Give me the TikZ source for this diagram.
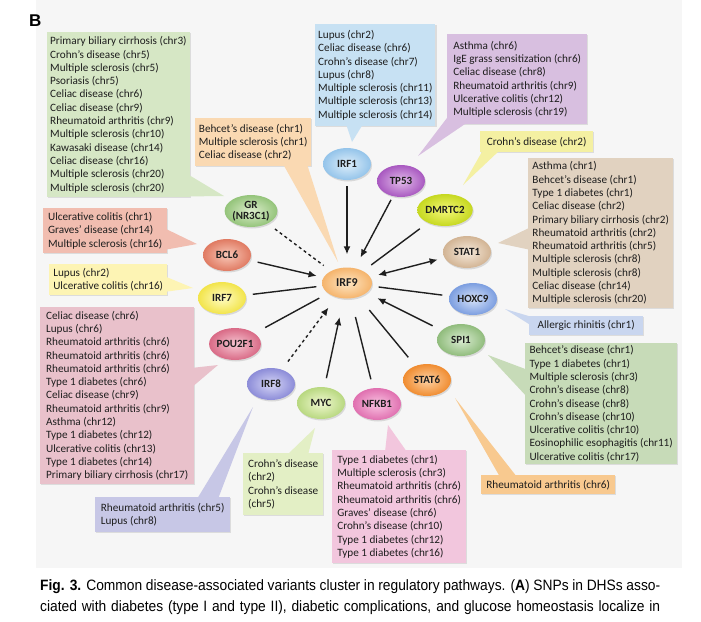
\documentclass[tikz,border=0pt]{standalone}
\usepackage{fontspec}
\setmainfont{Carlito}
\newfontfamily\capfont[FakeStretch=0.92]{Liberation Sans}
\newfontfamily\blabelfont{Liberation Sans}
\usetikzlibrary{shapes.geometric,shadows,arrows.meta}
% box colours
\definecolor{bgc}{HTML}{F6F6F6}
\definecolor{GRb}{HTML}{D6E7C5}
\definecolor{PKb}{HTML}{FAD9B2}
\definecolor{IRFib}{HTML}{C7E1F3}
\definecolor{TPb}{HTML}{D8BFE0}
\definecolor{DMb}{HTML}{F4F0A2}
\definecolor{STib}{HTML}{E1D2C0}
\definecolor{HOb}{HTML}{C9D6EF}
\definecolor{SPb}{HTML}{C7DBB8}
\definecolor{STvib}{HTML}{F8C98F}
\definecolor{NFb}{HTML}{F2C6DD}
\definecolor{MYb}{HTML}{E3EFC5}
\definecolor{IRFviiib}{HTML}{C7C7E6}
\definecolor{POb}{HTML}{E9C1CB}
\definecolor{IRFviib}{HTML}{FDF4B4}
\definecolor{BCb}{HTML}{F1BDB0}
\definecolor{txt}{HTML}{1E1E1E}
% gene colours (inner / outer)
\definecolor{IRFixI}{HTML}{FDE6C4}\definecolor{IRFixO}{HTML}{F5B46C}
\definecolor{GRI}{HTML}{DCEDCC}\definecolor{GRO}{HTML}{94C47A}
\definecolor{BCI}{HTML}{F8C8B8}\definecolor{BCO}{HTML}{E07A62}
\definecolor{IRFviiI}{HTML}{FFFCC4}\definecolor{IRFviiO}{HTML}{F2E44A}
\definecolor{POI}{HTML}{F6C6D2}\definecolor{POO}{HTML}{D96A86}
\definecolor{IRFviiiI}{HTML}{D6D6F6}\definecolor{IRFviiiO}{HTML}{8C8CD8}
\definecolor{MYI}{HTML}{F0F8D0}\definecolor{MYO}{HTML}{B8D880}
\definecolor{NFI}{HTML}{F9C4E2}\definecolor{NFO}{HTML}{E070B0}
\definecolor{STviI}{HTML}{FDD2A4}\definecolor{STviO}{HTML}{F08C30}
\definecolor{SPI}{HTML}{DAECD2}\definecolor{SPO}{HTML}{90BC7C}
\definecolor{HOI}{HTML}{D6E2F8}\definecolor{HOO}{HTML}{7C9EE0}
\definecolor{STiI}{HTML}{F6EADC}\definecolor{STiO}{HTML}{D2B494}
\definecolor{DMI}{HTML}{F4F878}\definecolor{DMO}{HTML}{C6D820}
\definecolor{TPI}{HTML}{E2BCEA}\definecolor{TPO}{HTML}{A858C0}
\definecolor{IRFiI}{HTML}{DEEEFA}\definecolor{IRFiO}{HTML}{94C4EA}
\tikzset{
  box/.style={anchor=north west, inner xsep=3pt, inner ysep=0pt, align=left,
    font=\fontsize{11.2}{13.3}\selectfont, text=txt,
    drop shadow={opacity=0.22, shadow xshift=1.2pt, shadow yshift=-1.2pt}},
  gene/.style={ellipse, minimum width=48pt, minimum height=32pt, inner sep=0pt,
    align=center, font=\fontsize{11}{11.5}\selectfont\bfseries, text=txt,
    drop shadow={opacity=0.25, shadow xshift=1pt, shadow yshift=-1.5pt}},
  conn/.style={line width=1.4pt, draw=black!88},
  tip/.style={-{Latex[length=8pt,width=7pt]}},
  dots/.style={dash pattern=on 3pt off 3pt},
}
\begin{document}
\begin{tikzpicture}[x=1pt,y=-1pt]
\useasboundingbox (0,0) rectangle (701,621);
\fill[white] (0,0) rectangle (701,621);
\fill[bgc] (36,0) rectangle (682,568);

\node[anchor=base west, inner sep=0pt, font=\blabelfont\bfseries\fontsize{17}{17}\selectfont] (lblB) at (29,27) {B};

% ---------- callout boxes ----------
\node[box, fill=GRb, minimum width=140pt, minimum height=165pt] (GRbox) at (47,32)
 {Primary biliary cirrhosis (chr3)\\Crohn’s disease (chr5)\\Multiple sclerosis (chr5)\\Psoriasis (chr5)\\Celiac disease (chr6)\\Celiac disease (chr9)\\Rheumatoid arthritis (chr9)\\Multiple sclerosis (chr10)\\Kawasaki disease (chr14)\\Celiac disease (chr16)\\Multiple sclerosis (chr20)\\Multiple sclerosis (chr20)};
\node[box, fill=PKb, minimum width=116pt, minimum height=48pt] (PKbox) at (195,118)
 {Behcet’s disease (chr1)\\Multiple sclerosis (chr1)\\Celiac disease (chr2)};
\node[box, fill=IRFib, minimum width=120pt, minimum height=102pt] (IRFibox) at (315,24)
 {Lupus (chr2)\\Celiac disease (chr6)\\Crohn’s disease (chr7)\\Lupus (chr8)\\Multiple sclerosis (chr11)\\Multiple sclerosis (chr13)\\Multiple sclerosis (chr14)};
\node[box, fill=TPb, minimum width=140pt, minimum height=90pt] (TPbox) at (447,34)
 {Asthma (chr6)\\IgE grass sensitization (chr6)\\Celiac disease (chr8)\\Rheumatoid arthritis (chr9)\\Ulcerative colitis (chr12)\\Multiple sclerosis (chr19)};
\node[box, fill=DMb, minimum width=113pt, minimum height=21pt] (DMbox) at (480,131)
 {Crohn’s disease (chr2)};
\node[box, fill=STib, minimum width=145pt, minimum height=150pt] (STibox) at (528,158)
 {Asthma (chr1)\\Behcet’s disease (chr1)\\Type 1 diabetes (chr1)\\Celiac disease (chr2)\\Primary biliary cirrhosis (chr2)\\Rheumatoid arthritis (chr2)\\Rheumatoid arthritis (chr5)\\Multiple sclerosis (chr8)\\Multiple sclerosis (chr8)\\Celiac disease (chr14)\\Multiple sclerosis (chr20)};
\node[box, fill=HOb, minimum width=114pt, minimum height=19pt] (HObox) at (529,316)
 {Allergic rhinitis (chr1)};
\node[box, fill=SPb, minimum width=152pt, minimum height=121pt] (SPbox) at (525,343)
 {Behcet’s disease (chr1)\\Type 1 diabetes (chr1)\\Multiple sclerosis (chr3)\\Crohn’s disease (chr8)\\Crohn’s disease (chr8)\\Crohn’s disease (chr10)\\Ulcerative colitis (chr10)\\Eosinophilic esophagitis (chr11)\\Ulcerative colitis (chr17)};
\node[box, fill=STvib, minimum width=134pt, minimum height=19pt] (STvibox) at (481,475)
 {Rheumatoid arthritis (chr6)};
\node[box, fill=NFb, minimum width=134pt, minimum height=113pt] (NFbox) at (332,450)
 {Type 1 diabetes (chr1)\\Multiple sclerosis (chr3)\\Rheumatoid arthritis (chr6)\\Rheumatoid arthritis (chr6)\\Graves’ disease (chr6)\\Crohn’s disease (chr10)\\Type 1 diabetes (chr12)\\Type 1 diabetes (chr16)};
\node[box, fill=MYb, minimum width=80pt, minimum height=62pt] (MYbox) at (243,453)
 {Crohn’s disease\\(chr2)\\Crohn’s disease\\(chr5)};
\node[box, fill=IRFviiib, minimum width=135pt, minimum height=35pt] (IRFviiibox) at (95,497)
 {Rheumatoid arthritis (chr5)\\Lupus (chr8)};
\node[box, fill=POb, minimum width=154pt, minimum height=177pt] (PObox) at (40,307)
 {Celiac disease (chr6)\\Lupus (chr6)\\Rheumatoid arthritis (chr6)\\Rheumatoid arthritis (chr6)\\Rheumatoid arthritis (chr6)\\Type 1 diabetes (chr6)\\Celiac disease (chr9)\\Rheumatoid arthritis (chr9)\\Asthma (chr12)\\Type 1 diabetes (chr12)\\Ulcerative colitis (chr13)\\Type 1 diabetes (chr14)\\Primary biliary cirrhosis (chr17)};
\node[box, fill=IRFviib, minimum width=118pt, minimum height=31pt] (IRFviibox) at (49,264)
 {Lupus (chr2)\\Ulcerative colitis (chr16)};
\node[box, fill=BCb, minimum width=124pt, minimum height=45pt] (BCbox) at (43,208)
 {Ulcerative colitis (chr1)\\Graves’ disease (chr14)\\Multiple sclerosis (chr16)};

% ---------- callout tails ----------
\coordinate (tGR) at (224,196);
\coordinate (tPK) at (338,262);
\coordinate (tIRFi) at (352,142);
\coordinate (tTP) at (418,156);
\coordinate (tDM) at (463,185);
\coordinate (tSTi) at (498,243);
\coordinate (tHO) at (505,309);
\coordinate (tSP) at (488,355);
\coordinate (tSTvi) at (455,398);
\coordinate (tNF) at (388,425);
\coordinate (tMY) at (315,428);
\coordinate (tIRFviii) at (253,407);
\coordinate (tPO) at (218,365);
\coordinate (tIRFvii) at (193,288);
\coordinate (tBC) at (197,244);
\fill[GRb] (184,172) -- (tGR) -- (184,196.5) -- cycle;
\fill[PKb] (283,164) -- (tPK) -- (307,164) -- cycle;
\fill[IRFib] (346,124) -- (tIRFi) -- (363,124) -- cycle;
\fill[TPb] (450,114) -- (tTP) -- (468,122) -- (450,122) -- cycle;
\fill[DMb] (483,150) -- (tDM) -- (500,150) -- cycle;
\fill[STib] (531,227) -- (tSTi) -- (531,250) -- cycle;
\fill[HOb] (532,317) -- (tHO) -- (532,326) -- cycle;
\fill[SPb] (528,370) -- (tSP) -- (528,398) -- cycle;
\fill[STvib] (500,477) -- (tSTvi) -- (517,477) -- cycle;
\fill[NFb] (385,452) -- (tNF) -- (407,452) -- cycle;
\fill[MYb] (287,455) -- (tMY) -- (308,455) -- cycle;
\fill[IRFviiib] (197,499) -- (tIRFviii) -- (218,499) -- cycle;
\fill[POb] (191,368) -- (tPO) -- (191,388) -- cycle;
\fill[IRFviib] (164,276) -- (tIRFvii) -- (164,292) -- cycle;
\fill[BCb] (164,228) -- (tBC) -- (164,250) -- cycle;

% ---------- gene nodes ----------
\node[gene, minimum width=50pt, minimum height=31pt, font=\fontsize{12}{13}\selectfont\bfseries, inner color=IRFixI, outer color=IRFixO] (IRF9) at (347,283) {IRF9};
\node[gene, inner color=GRI, outer color=GRO] (GR) at (251,211) {GR\\(NR3C1)};
\node[gene, inner color=BCI, outer color=BCO] (BCL6) at (227,255) {BCL6};
\node[gene, inner color=IRFviiI, outer color=IRFviiO] (IRF7) at (222,298) {IRF7};
\node[gene, inner color=POI, outer color=POO] (POU2F1) at (235,344) {POU2F1};
\node[gene, inner color=IRFviiiI, outer color=IRFviiiO] (IRF8) at (271,384) {IRF8};
\node[gene, inner color=MYI, outer color=MYO] (MYC) at (321,403) {MYC};
\node[gene, inner color=NFI, outer color=NFO] (NFKB1) at (377,404) {NFKB1};
\node[gene, inner color=STviI, outer color=STviO] (STAT6) at (427,380) {STAT6};
\node[gene, inner color=SPI, outer color=SPO] (SPI1) at (461,340) {SPI1};
\node[gene, inner color=HOI, outer color=HOO] (HOXC9) at (473,299) {HOXC9};
\node[gene, inner color=STiI, outer color=STiO] (STAT1) at (467,252) {STAT1};
\node[gene, inner color=DMI, outer color=DMO] (DMRTC2) at (445,210) {DMRTC2};
\node[gene, inner color=TPI, outer color=TPO] (TP53) at (401,181) {TP53};
\node[gene, inner color=IRFiI, outer color=IRFiO] (IRF1) at (347,164) {IRF1};

% ---------- connectors ----------
\draw[conn, dots, shorten <=9pt, shorten >=9pt] (GR) -- (IRF9);
\draw[conn, tip, shorten <=8pt, shorten >=7pt] (BCL6) -- (IRF9);
\draw[conn, shorten <=7pt, shorten >=6pt] (IRF7) -- (IRF9);
\draw[conn, shorten <=12pt, shorten >=10pt] (POU2F1) -- (IRF9);
\draw[conn, dots, tip, shorten <=10pt, shorten >=13pt] (IRF8) -- (IRF9);
\draw[conn, tip, shorten <=9pt, shorten >=19pt] (MYC) -- (IRF9);
\draw[conn, shorten <=9pt, shorten >=19pt] (NFKB1) -- (IRF9);
\draw[conn, shorten <=11pt, shorten >=17pt] (STAT6) -- (IRF9);
\draw[conn, tip, shorten <=10pt, shorten >=12pt] (SPI1) -- (IRF9);
\draw[conn, shorten <=7pt, shorten >=7pt] (HOXC9) -- (IRF9);
\draw[conn, {Latex[length=8pt,width=7pt]}-{Latex[length=8pt,width=7pt]}, shorten <=8pt, shorten >=7pt] (IRF9) -- (STAT1);
\draw[conn, shorten <=10pt, shorten >=10pt] (DMRTC2) -- (IRF9);
\draw[conn, tip, shorten <=4pt, shorten >=12pt] (TP53) -- (IRF9);
\draw[conn, tip, shorten <=6pt, shorten >=13pt] (IRF1) -- (IRF9);

% ---------- caption ----------
\node[anchor=base west, inner sep=0pt, font=\capfont\fontsize{15}{18}\selectfont] (cap1) at (40,590)
 {\makebox[620pt][s]{\textbf{Fig. 3.} Common disease-associated variants cluster in regulatory pathways. (\textbf{A}) SNPs in DHSs asso-}};
\node[anchor=base west, inner sep=0pt, font=\capfont\fontsize{15}{18}\selectfont] (cap2) at (40,611)
 {\makebox[620pt][s]{ciated with diabetes (type I and type II), diabetic complications, and glucose homeostasis localize in}};
\end{tikzpicture}
\end{document}
